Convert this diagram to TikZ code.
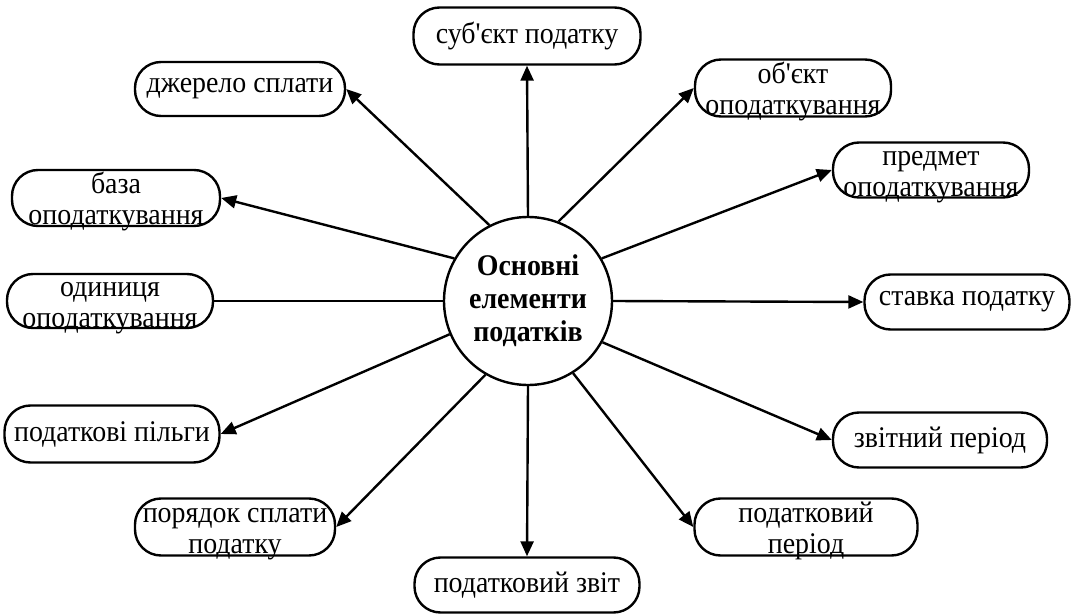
\documentclass[tikz,border=0pt]{standalone}
\usepackage{fontspec}
\setmainfont{Liberation Serif}[Ligatures=TeXOff, FakeStretch=0.93]
\usetikzlibrary{arrows.meta}
\newcommand{\twolines}[2]{\smash{\raisebox{-11pt}{\begin{tabular}{@{}c@{}}#1\\#2\end{tabular}}}}
\tikzset{
  box/.style={draw, line width=2.4pt, rounded corners=26pt, inner sep=0pt, minimum height=56pt},
  hub/.style={draw, circle, line width=2.4pt, minimum size=168pt, inner sep=0pt, align=center,
              font=\bfseries\fontsize{30}{33}\selectfont},
  arr/.style={line width=2.4pt, -{Triangle[length=15pt,width=13pt]}},
  plain/.style={line width=2.4pt}
}
\begin{document}
\begin{tikzpicture}[x=1pt,y=-1pt,font=\fontsize{30}{31}\selectfont]
\useasboundingbox (0,0) rectangle (1074,615);
\node[hub] (c) at (528,301) {Основні\\елементи\\податків};
\node[box, minimum width=227pt, minimum height=57pt] (b1) at (527,36) {суб'єкт податку};
\node[box, minimum width=196pt, minimum height=57pt] (b2) at (793,88) {\twolines{об'єкт}{оподаткування}};
\node[box, minimum width=196pt, minimum height=55pt] (b3) at (931,170) {\twolines{предмет}{оподаткування}};
\node[box, minimum width=205pt, minimum height=55pt] (b4) at (967,302) {ставка податку};
\node[box, minimum width=214pt, minimum height=55pt] (b5) at (940,440) {звітний період};
\node[box, minimum width=223pt, minimum height=57pt] (b6) at (806,527) {\twolines{податковий}{період}};
\node[box, minimum width=225pt, minimum height=55pt] (b7) at (527,585) {податковий звіт};
\node[box, minimum width=200pt, minimum height=57pt] (b8) at (235,527) {\twolines{порядок сплати}{податку}};
\node[box, minimum width=215pt, minimum height=57pt] (b9) at (112,434) {податкові пільги};
\node[box, minimum width=206pt, minimum height=54pt] (b10) at (110,301) {\twolines{одиниця}{оподаткування}};
\node[box, minimum width=208pt, minimum height=56pt] (b11) at (116,198) {\twolines{база}{оподаткування}};
\node[box, minimum width=210pt, minimum height=54pt] (b12) at (240,89) {джерело сплати};
\draw[arr] (c.90) -- (b1.south);
\draw[arr] (c.69) -- (b2.west);
\draw[arr] (c.30) -- (b3.west);
\draw[arr] (c.0) -- (b4.west);
\draw[arr] (c.-29) -- (b5.west);
\draw[arr] (c.-58) -- (b6.west);
\draw[arr] (c.270) -- (b7.north);
\draw[arr] (c.240) -- (b8.east);
\draw[arr] (c.203) -- (b9.east);
\draw[plain] (c.180) -- (b10.east);
\draw[arr] (c.150) -- (b11.east);
\draw[arr] (c.117) -- (b12.east);
\end{tikzpicture}
\end{document}
